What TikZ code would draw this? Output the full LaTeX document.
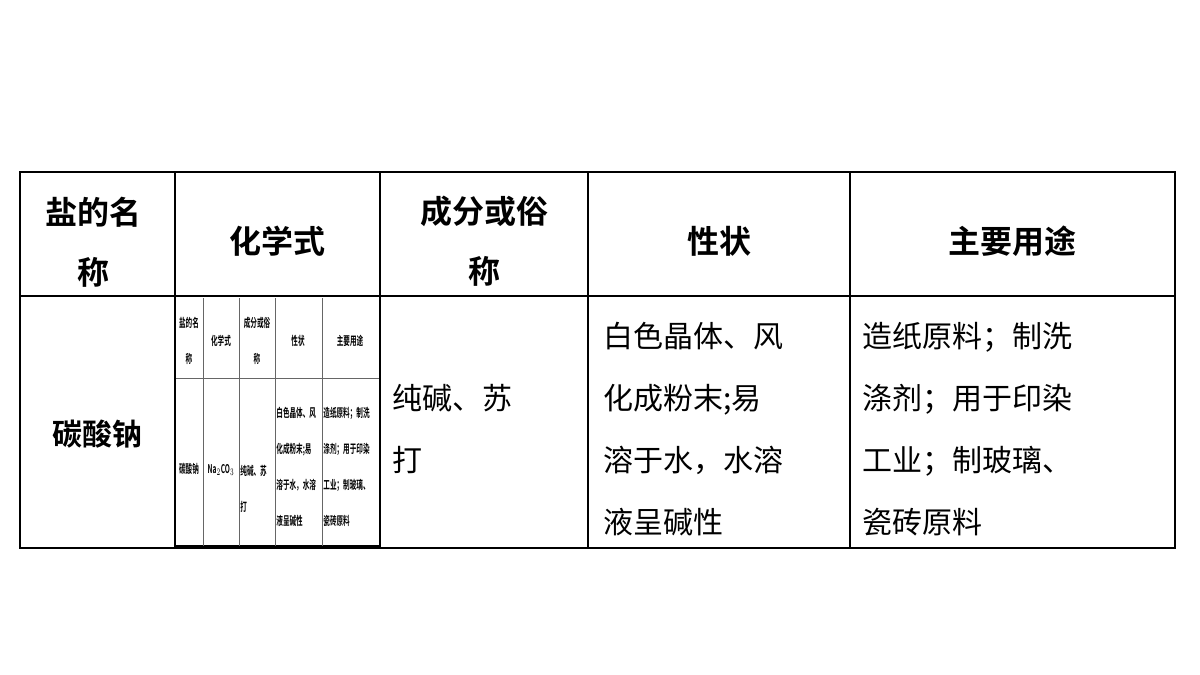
\documentclass[tikz,border=0pt]{standalone}
\usepackage{fontspec}
\usepackage{graphicx}
\newfontfamily\cjk{Noto Sans CJK SC}
\newfontfamily\cjkb{Noto Sans CJK SC Bold}
\newcommand\minicell[2][l]{\scalebox{0.55}[1]{\begin{tabular}{@{}#1@{}}#2\end{tabular}}}
\begin{document}
\begin{tikzpicture}[x=0.5pt,y=-0.5pt,
    head/.style={font=\cjkb\fontsize{16}{30}\selectfont, align=center},
    body/.style={anchor=north west, font=\cjk\fontsize{15}{31}\selectfont, align=left, inner sep=0pt},
    tiny/.style={font=\cjkb\fontsize{6}{18}\selectfont, inner sep=0pt},
    tinyl/.style={tiny, anchor=north west},
    grid/.style={draw=black, line width=0.6pt},
    thingrid/.style={draw=black!60, line width=0.3pt}
    ]
    \useasboundingbox (0,0) rectangle (1200,675);
    % Main table
    \draw[grid] (20,172) rectangle (1175,548);
    \draw[grid] (20,296) -- (1175,296);
    \foreach \x in {175,380,588,850} \draw[grid] (\x,172) -- (\x,548);
    % Header
    \node[head, anchor=west] (h1) at (38,242) {盐的名\\称};
    \node[head] (h2) at (277,241) {化学式};
    \node[head] (h3) at (484,241) {成分或俗\\称};
    \node[head] (h4) at (719,241) {性状};
    \node[head] (h5) at (1012,241) {主要用途};
    % Body
    \node[font=\cjkb\fontsize{15}{30}\selectfont] (b1) at (97,434) {碳酸钠};
    \node[body] (b3) at (392,384) {纯碱、苏\\打};
    \node[body] (b4) at (603,322) {白色晶体、风\\化成粉末;易\\溶于水，水溶\\液呈碱性};
    \node[body] (b5) at (862,322) {造纸原料；制洗\\涤剂；用于印染\\工业；制玻璃、\\瓷砖原料};
    % Small copy of the table
    \draw[thingrid] (176,378) -- (379,378);
    \draw[grid] (176,546) -- (379,546);
    \foreach \x in {203,239,275,322} \draw[thingrid] (\x,298) -- (\x,546);
    \node[tiny] (m1) at (189,338) {\minicell[c]{盐的名\\称}};
    \node[tiny] (m2) at (221,338) {\minicell{化学式}};
    \node[tiny] (m3) at (257,338) {\minicell[c]{成分或俗\\称}};
    \node[tiny] (m4) at (298,338) {\minicell{性状}};
    \node[tiny] (m5) at (350,338) {\minicell{主要用途}};
    \node[tiny] (n1) at (189,466) {\minicell{碳酸钠}};
    \node[tiny] (n2) at (221,466) {\minicell{Na$_2$CO$_3$}};
    \node[tinyl] (n3) at (240,450) {\minicell{纯碱、苏\\打}};
    \node[tinyl] (n4) at (276,392) {\minicell{白色晶体、风\\化成粉末;易\\溶于水，水溶\\液呈碱性}};
    \node[tinyl] (n5) at (323,392) {\minicell{造纸原料；制洗\\涤剂；用于印染\\工业；制玻璃、\\瓷砖原料}};
\end{tikzpicture}
\end{document}
